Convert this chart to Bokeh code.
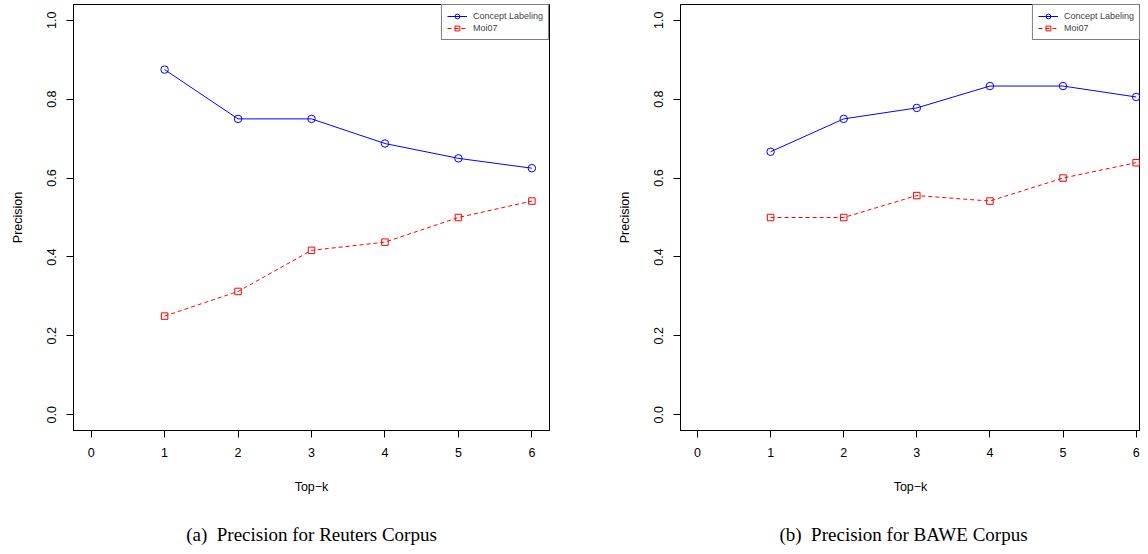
from bokeh.plotting import figure
from bokeh.layouts import row, column
from bokeh.models import Range1d, FixedTicker, PrintfTickFormatter, Legend, LegendItem, ColumnDataSource
from bokeh.core.properties import value
from bokeh.embed import file_html
from bokeh.resources import INLINE

# ---- data ----
top_k = [1, 2, 3, 4, 5, 6]
reuters_concept = [0.875, 0.75, 0.75, 0.6875, 0.65, 0.625]
reuters_moi07 = [0.25, 0.3125, 0.4167, 0.4375, 0.5, 0.5417]
bawe_concept = [0.6667, 0.75, 0.7778, 0.8333, 0.8333, 0.8056]
bawe_moi07 = [0.5, 0.5, 0.5556, 0.5417, 0.6, 0.6389]
x_ticks = [0, 1, 2, 3, 4, 5, 6]
y_ticks = [0.0, 0.2, 0.4, 0.6, 0.8, 1.0]
series_names = ["Concept Labeling", "Moi07"]
captions = ["(a)\u00a0\u00a0Precision for Reuters Corpus", "(b)\u00a0\u00a0Precision for BAWE Corpus"]

SANS = "Liberation Sans"
SERIF = "Liberation Serif"


def make_panel(concept, moi, fw, xr, bl, br):
    p = figure(frame_width=fw, frame_height=426, output_backend="svg", toolbar_location=None,
               x_range=Range1d(*xr), y_range=Range1d(-0.04, 1.04),
               min_border_left=bl, min_border_right=br, min_border_top=4,
               min_border_bottom=70)
    p.xgrid.visible = False
    p.ygrid.visible = False
    p.outline_line_color = "black"
    p.outline_line_width = 1
    p.background_fill_color = "white"
    p.border_fill_color = "white"

    for ax in (p.xaxis[0], p.yaxis[0]):
        ax.axis_line_color = "black"
        ax.major_tick_line_color = "black"
        ax.major_tick_in = 0
        ax.major_tick_out = 7
        ax.minor_tick_line_color = None
        ax.major_label_text_font = SANS
        ax.major_label_text_font_size = "12.5px"
        ax.major_label_text_color = "black"
        ax.axis_label_text_font = SANS
        ax.axis_label_text_font_size = "12.5px"
        ax.axis_label_text_font_style = "normal"
        ax.axis_label_text_color = "black"

    p.xaxis.ticker = FixedTicker(ticks=x_ticks)
    p.yaxis.ticker = FixedTicker(ticks=y_ticks)
    p.yaxis.formatter = PrintfTickFormatter(format="%.1f")
    p.yaxis.major_label_orientation = "vertical"
    p.xaxis.axis_label = "Top\u2212k"
    p.yaxis.axis_label = "Precision"
    p.xaxis.major_label_standoff = 10
    p.yaxis.major_label_standoff = 10
    p.xaxis.axis_label_standoff = 20
    p.yaxis.axis_label_standoff = 20

    src = ColumnDataSource(dict(k=top_k, c=concept, m=moi))
    l1 = p.line("k", "c", source=src, line_color="#0000FF", line_width=1)
    s1 = p.scatter("k", "c", source=src, marker="circle", size=7.5, fill_color=None,
                   line_color="#0000FF", line_width=1)
    l2 = p.line("k", "m", source=src, line_color="#FF0000", line_width=1, line_dash="4 3")
    s2 = p.scatter("k", "m", source=src, marker="square", size=6.5, fill_color=None,
                   line_color="#FF0000", line_width=1)

    leg = Legend(items=[LegendItem(label=series_names[0], renderers=[l1, s1]),
                        LegendItem(label=series_names[1], renderers=[l2, s2])],
                 location="top_right", margin=0, padding=5, spacing=0,
                 glyph_width=20, glyph_height=12, label_height=12, label_standoff=6,
                 label_text_font=SANS, label_text_font_size="9px",
                 border_line_color="black", border_line_width=1,
                 background_fill_color="white", background_fill_alpha=1)
    p.add_layout(leg)
    return p


p1 = make_panel(reuters_concept, reuters_moi07, 476, (-0.24, 6.24), 73, 51)
p2 = make_panel(bawe_concept, bawe_moi07, 460, (-0.2326, 6.06), 80, 0)

# caption strip below both panels (x in page pixels)
cap = figure(frame_width=1140, frame_height=46, output_backend="svg", toolbar_location=None,
             x_range=Range1d(0, 1140), y_range=Range1d(0, 46),
             x_axis_type=None, y_axis_type=None,
             min_border_left=0, min_border_right=0, min_border_top=0, min_border_bottom=0)
cap.xgrid.visible = False
cap.ygrid.visible = False
cap.outline_line_color = None
cap.background_fill_color = "white"
cap.border_fill_color = "white"
cap.text(x=[311, 903], y=[2, 2], text=captions, text_font=value(SERIF),
         text_font_size="19px", text_color="black", text_align="center",
         text_baseline="bottom")

layout = column(row(p1, p2, spacing=0), cap, spacing=0)
open("out.html", "w").write(file_html(layout, INLINE))
